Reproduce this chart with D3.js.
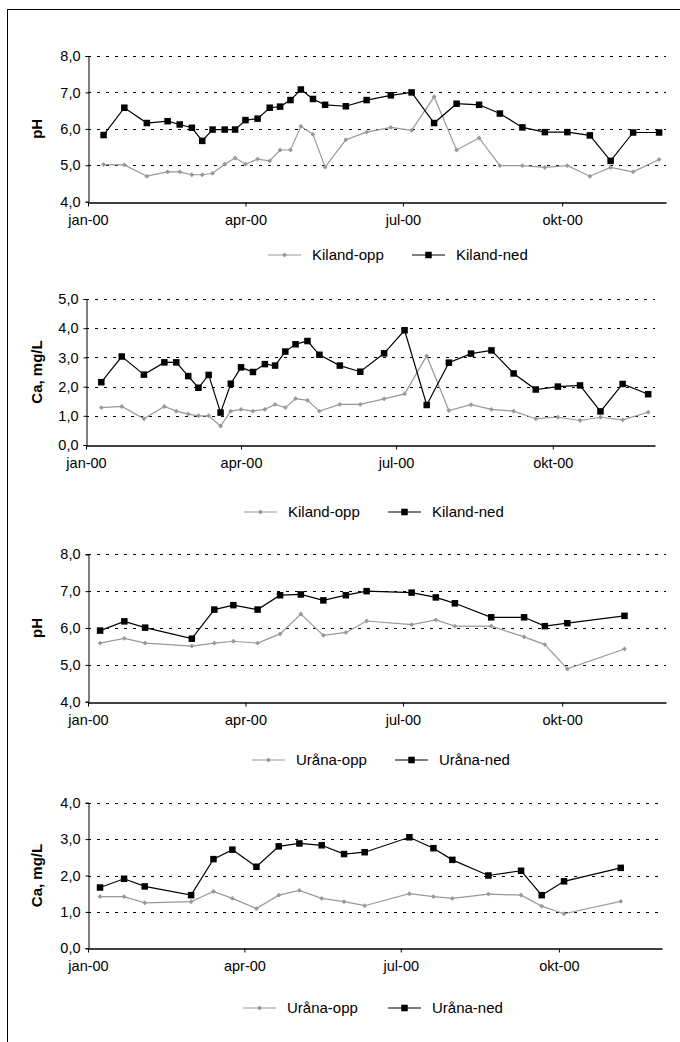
<!DOCTYPE html>
<html>
<head>
<meta charset="utf-8">
<script src="https://cdn.jsdelivr.net/npm/d3@7"></script>
<style>
  body { margin: 0; background: #fff; }
  svg text { font-family: "Liberation Sans", Arial, sans-serif; fill: #000; }
  .tick-label { font-size: 14.5px; }
  .axis-title { font-size: 15px; font-weight: bold; }
  .legend-label { font-size: 15px; }
</style>
</head>
<body>
<div id="chart"></div>
<script>
// Sampling dates
const kilandDates = ['2000-01-10', '2000-01-22', '2000-02-04', '2000-02-16', '2000-02-23', '2000-03-01',
  '2000-03-07', '2000-03-13', '2000-03-20', '2000-03-26', '2000-04-01', '2000-04-08', '2000-04-15',
  '2000-04-21', '2000-04-27', '2000-05-03', '2000-05-10', '2000-05-17', '2000-05-29', '2000-06-10',
  '2000-06-24', '2000-07-06', '2000-07-19', '2000-08-01', '2000-08-14', '2000-08-26', '2000-09-08',
  '2000-09-21', '2000-10-04', '2000-10-17', '2000-10-29', '2000-11-11', '2000-11-26'];
const uranaDates = ['2000-01-08', '2000-01-22', '2000-02-03', '2000-03-01', '2000-03-14', '2000-03-25',
  '2000-04-08', '2000-04-21', '2000-05-03', '2000-05-16', '2000-05-29', '2000-06-10', '2000-07-06',
  '2000-07-20', '2000-07-31', '2000-08-21', '2000-09-09', '2000-09-21', '2000-10-04', '2000-11-06'];

// Kiland
const kilandPhOpp = [5.02, 5.01, 4.70, 4.82, 4.82, 4.74, 4.74, 4.78, 5.03, 5.20, 5.03, 5.17, 5.12, 5.42, 5.42,
  6.07, 5.85, 4.95, 5.70, 5.91, 6.04, 5.96, 6.88, 5.42, 5.75, 4.99, 4.99, 4.94, 4.99, 4.70, 4.94, 4.82, 5.16];
const kilandPhNed = [5.83, 6.58, 6.16, 6.21, 6.12, 6.03, 5.67, 5.98, 5.98, 5.98, 6.24, 6.28, 6.58, 6.61, 6.79,
  7.08, 6.82, 6.66, 6.62, 6.79, 6.92, 7.00, 6.16, 6.69, 6.66, 6.42, 6.04, 5.91, 5.91, 5.82, 5.12, 5.90, 5.90];
const kilandCaOpp = [1.28, 1.32, 0.90, 1.32, 1.16, 1.06, 1.00, 1.00, 0.65, 1.16, 1.22, 1.16, 1.22, 1.39, 1.28,
  1.59, 1.53, 1.16, 1.39, 1.39, 1.58, 1.75, 3.05, 1.18, 1.38, 1.22, 1.16, 0.90, 0.95, 0.84, 0.95, 0.86, 1.12];
const kilandCaNed = [2.15, 3.03, 2.41, 2.83, 2.83, 2.36, 1.96, 2.40, 1.11, 2.10, 2.66, 2.50, 2.77, 2.72, 3.20,
  3.45, 3.56, 3.09, 2.72, 2.51, 3.14, 3.93, 1.37, 2.82, 3.13, 3.24, 2.45, 1.90, 2.00, 2.04, 1.15, 2.09, 1.74];

// Uråna
const uranaPhOpp = [5.59, 5.72, 5.59, 5.51, 5.59, 5.64, 5.59, 5.84, 6.38, 5.80, 5.88, 6.19, 6.09, 6.22, 6.05,
  6.05, 5.76, 5.55, 4.89, 5.43];
const uranaPhNed = [5.93, 6.18, 6.01, 5.71, 6.50, 6.62, 6.50, 6.89, 6.91, 6.75, 6.89, 7.00, 6.96, 6.83, 6.67,
  6.29, 6.29, 6.05, 6.13, 6.33];
const uranaCaOpp = [1.42, 1.42, 1.25, 1.28, 1.56, 1.37, 1.09, 1.46, 1.59, 1.37, 1.28, 1.17, 1.50, 1.42, 1.37,
  1.49, 1.46, 1.16, 0.95, 1.29];
const uranaCaNed = [1.67, 1.91, 1.70, 1.46, 2.45, 2.71, 2.24, 2.80, 2.88, 2.83, 2.59, 2.64, 3.05, 2.75, 2.43,
  2.00, 2.13, 1.46, 1.84, 2.21];

// Axes
const xDomain = ['2000-01-01', '2000-11-30'];
const monthTicks = ['2000-01-01', '2000-04-01', '2000-07-01', '2000-10-01'];
const monthLabels = ['jan-00', 'apr-00', 'jul-00', 'okt-00'];
const phTicks = [4, 5, 6, 7, 8];
const caKilandTicks = [0, 1, 2, 3, 4, 5];
const caUranaTicks = [0, 1, 2, 3, 4];

const parseDate = d3.timeParse('%Y-%m-%d');
const fmt = d3.format('.1f');

class LineChart {
  constructor(_config, _data) {
    this.config = {
      svg: _config.svg,
      left: _config.left,
      right: _config.right,
      top: _config.top,
      bottom: _config.bottom,
      yTicks: _config.yTicks,
      yTitle: _config.yTitle,
      legendOppX: _config.legendOppX,
      legendNedX: _config.legendNedX,
      legendY: _config.legendY,
      oppColor: '#999999',
      nedColor: '#000000'
    };
    this.data = _data;
    this.initVis();
  }

  initVis() {
    let vis = this;
    const c = vis.config;

    vis.xScale = d3.scaleTime()
      .domain(xDomain.map(parseDate))
      .range([c.left, c.right]);

    vis.yScale = d3.scaleLinear()
      .domain(d3.extent(c.yTicks))
      .range([c.bottom, c.top]);

    vis.g = c.svg.append('g');

    this.renderVis();
  }

  renderVis() {
    let vis = this;
    const c = vis.config;

    // dotted gridlines (not at the bottom)
    vis.g.append('g')
      .selectAll('line')
      .data(c.yTicks.slice(1))
      .join('line')
      .attr('x1', c.left)
      .attr('x2', c.right)
      .attr('y1', d => Math.round(vis.yScale(d)) + 0.5)
      .attr('y2', d => Math.round(vis.yScale(d)) + 0.5)
      .attr('stroke', '#000')
      .attr('stroke-width', 1)
      .attr('stroke-dasharray', '3,6');

    // y axis
    const yAxis = d3.axisLeft(vis.yScale)
      .tickValues(c.yTicks)
      .tickSize(3)
      .tickPadding(5)
      .tickFormat(d => fmt(d).replace('.', ','));
    const yG = vis.g.append('g')
      .attr('transform', `translate(${Math.round(c.left) + 0.5},0)`)
      .call(yAxis);
    yG.select('.domain').attr('stroke', '#000');
    yG.selectAll('.tick line').attr('stroke', '#000');
    yG.selectAll('.tick text')
      .attr('class', 'tick-label')
      .attr('font-family', null)
      .attr('font-size', null);

    // x axis
    const xAxis = d3.axisBottom(vis.xScale)
      .tickValues(monthTicks.map(parseDate))
      .tickSize(4)
      .tickSizeOuter(0)
      .tickPadding(8)
      .tickFormat((d, i) => monthLabels[i]);
    const xG = vis.g.append('g')
      .attr('transform', `translate(0,${Math.round(c.bottom) + 0.5})`)
      .call(xAxis);
    xG.select('.domain').attr('stroke', '#000').attr('stroke-width', 1.5);
    xG.selectAll('.tick line').attr('stroke', '#000');
    xG.selectAll('.tick text')
      .attr('class', 'tick-label')
      .attr('font-family', null)
      .attr('font-size', null);

    // y title
    vis.g.append('text')
      .attr('class', 'axis-title')
      .attr('text-anchor', 'middle')
      .attr('transform', `translate(42,${(c.top + c.bottom) / 2}) rotate(-90)`)
      .text(c.yTitle);

    const line = d3.line()
      .x(d => vis.xScale(d.date))
      .y(d => vis.yScale(d.value));

    const series = [
      { key: 'opp', color: c.oppColor, values: vis.data.opp, label: vis.data.oppLabel },
      { key: 'ned', color: c.nedColor, values: vis.data.ned, label: vis.data.nedLabel }
    ];

    series.forEach(s => {
      const pts = vis.data.dates.map((d, i) => ({ date: parseDate(d), value: s.values[i] }));
      vis.g.append('path')
        .datum(pts)
        .attr('fill', 'none')
        .attr('stroke', s.color)
        .attr('stroke-width', 1.2)
        .attr('d', line);
      vis.drawMarkers(vis.g, pts.map(p => [vis.xScale(p.date), vis.yScale(p.value)]), s);
    });

    // legend
    const legend = vis.g.append('g').attr('class', 'legend');
    series.forEach(s => {
      const x0 = s.key === 'opp' ? c.legendOppX : c.legendNedX;
      legend.append('line')
        .attr('x1', x0).attr('x2', x0 + 33)
        .attr('y1', c.legendY).attr('y2', c.legendY)
        .attr('stroke', s.color)
        .attr('stroke-width', 1.2);
      vis.drawMarkers(legend, [[x0 + 16.5, c.legendY]], s);
      legend.append('text')
        .attr('class', 'legend-label')
        .attr('x', x0 + 44)
        .attr('y', c.legendY)
        .attr('dy', '.35em')
        .text(s.label);
    });
  }

  drawMarkers(parent, xy, s) {
    if (s.key === 'ned') {
      parent.append('g').selectAll('rect')
        .data(xy)
        .join('rect')
        .attr('x', d => d[0] - 3.25)
        .attr('y', d => d[1] - 3.25)
        .attr('width', 6.5)
        .attr('height', 6.5)
        .attr('fill', '#000');
    } else {
      parent.append('g').selectAll('path')
        .data(xy)
        .join('path')
        .attr('d', d3.symbol(d3.symbolDiamond2, 15))
        .attr('transform', d => `translate(${d[0]},${d[1]})`)
        .attr('fill', s.color);
    }
  }
}

const svg = d3.select('#chart').append('svg')
  .attr('width', 680)
  .attr('height', 1042);

// outer frame (extends past right and bottom edges)
svg.append('rect')
  .attr('x', 7.5)
  .attr('y', 9.5)
  .attr('width', 700)
  .attr('height', 1100)
  .attr('fill', 'none')
  .attr('stroke', '#000')
  .attr('stroke-width', 1);

new LineChart({
  svg: svg, left: 88, right: 666, top: 56, bottom: 201.7, yTicks: phTicks, yTitle: 'pH',
  legendOppX: 268, legendNedX: 412, legendY: 255
}, { dates: kilandDates, opp: kilandPhOpp, ned: kilandPhNed, oppLabel: 'Kiland-opp', nedLabel: 'Kiland-ned' });

new LineChart({
  svg: svg, left: 86, right: 655, top: 299, bottom: 445, yTicks: caKilandTicks, yTitle: 'Ca, mg/L',
  legendOppX: 244, legendNedX: 388, legendY: 512
}, { dates: kilandDates, opp: kilandCaOpp, ned: kilandCaNed, oppLabel: 'Kiland-opp', nedLabel: 'Kiland-ned' });

new LineChart({
  svg: svg, left: 88, right: 666, top: 554.3, bottom: 701.7, yTicks: phTicks, yTitle: 'pH',
  legendOppX: 252, legendNedX: 395, legendY: 760
}, { dates: uranaDates, opp: uranaPhOpp, ned: uranaPhNed, oppLabel: 'Uråna-opp', nedLabel: 'Uråna-ned' });

new LineChart({
  svg: svg, left: 88, right: 662, top: 802.7, bottom: 948.3, yTicks: caUranaTicks, yTitle: 'Ca, mg/L',
  legendOppX: 243, legendNedX: 388, legendY: 1008
}, { dates: uranaDates, opp: uranaCaOpp, ned: uranaCaNed, oppLabel: 'Uråna-opp', nedLabel: 'Uråna-ned' });
</script>
</body>
</html>
